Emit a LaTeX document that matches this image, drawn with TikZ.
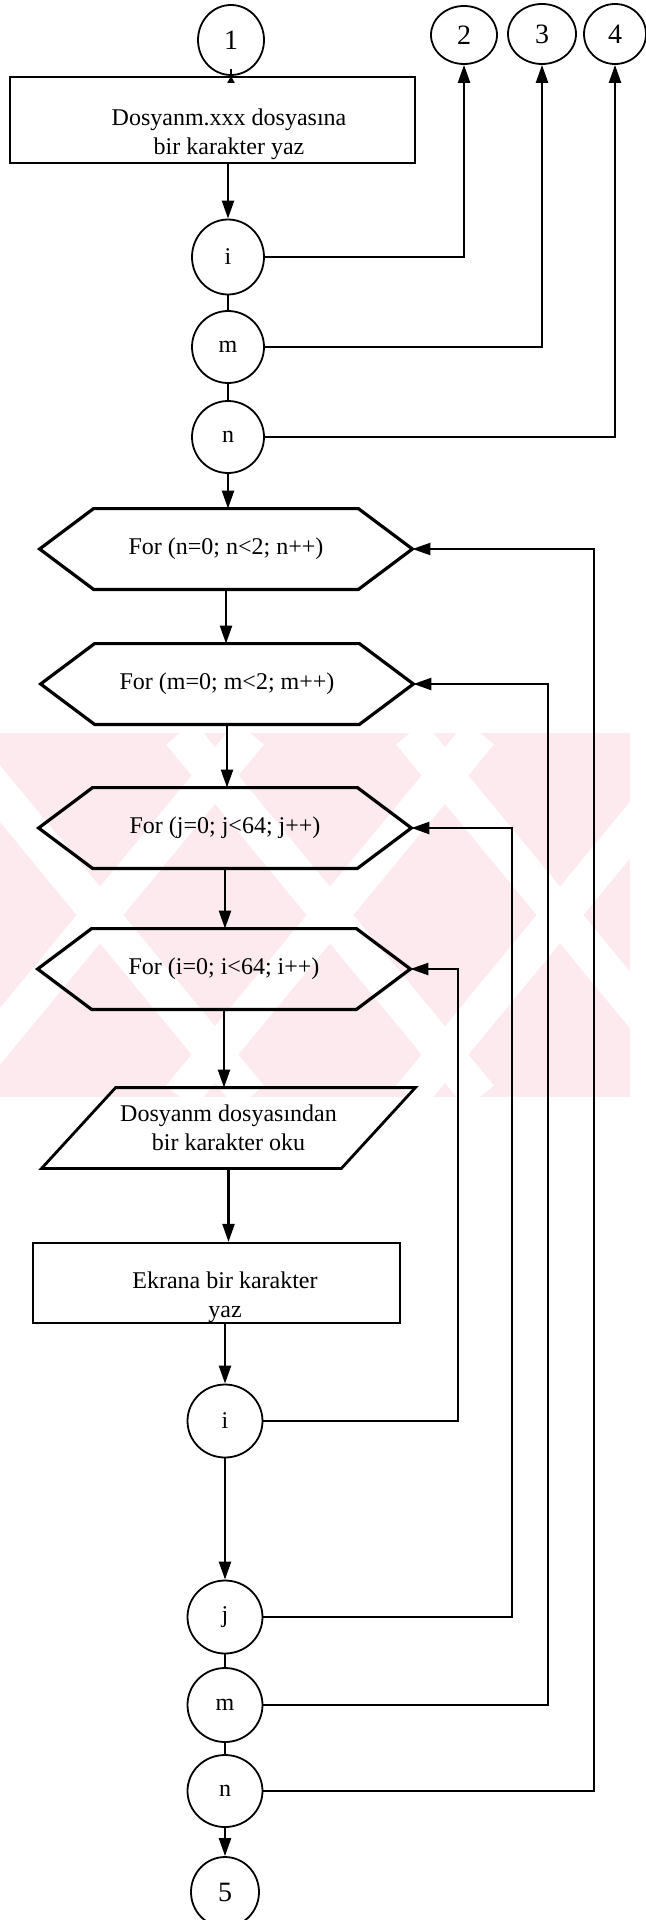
\documentclass[tikz,border=0pt]{standalone}
\usepackage{fontspec}
\setmainfont{Liberation Serif}
\usetikzlibrary{shapes.geometric,arrows.meta,calc}

\definecolor{markpink}{RGB}{253,234,238}

% Draws a "for" loop hexagon around a named text node.
% #1 name, #2 x, #3 y, #4 text
\newcommand{\forhex}[4]{%
  \node[looptext] (#1) at (#2,#3) {#4};
  \coordinate (#1-r) at ([xshift=27pt]#1.east);
  \coordinate (#1-l) at ([xshift=-27pt]#1.west);
  \draw[hexline] (#1.north west) -- (#1.north east) -- (#1-r)
     -- (#1.south east) -- (#1.south west) -- (#1-l) -- cycle;
}

\begin{document}
\begin{tikzpicture}[x=0.5pt,y=-0.5pt,
  txt/.style={font=\fontsize{12}{14.5}\selectfont},
  conn/.style={line width=1.15pt,draw=black},
  arr/.style={conn,-{Triangle[length=9pt,width=6pt]}},
  small arr/.style={conn,-{Triangle[length=3.5pt,width=3.5pt]}},
  joint/.style={ellipse,draw,line width=0.9pt,inner sep=0pt,txt},
  numjoint/.style={joint,font=\fontsize{14}{16}\selectfont},
  procbox/.style={rectangle,draw,line width=1.1pt,inner sep=0pt},
  looptext/.style={rectangle,inner sep=0pt,minimum width=132pt,minimum height=40pt,txt},
  hexline/.style={line width=1.6pt,line join=miter},
  iotext/.style={rectangle,inner sep=0pt,minimum width=149.5pt,minimum height=40pt,align=center,txt},
  markband/.style={draw=white,line width=18pt},
]
\useasboundingbox (0,0) rectangle (646,1920);

% ---- faint background mark behind the loop section
\begin{scope}
  \clip (0,733) rectangle (630,1097);
  \fill[markpink] (0,733) rectangle (630,1097);
  \foreach \cx in {100,330,560} {
    \draw[markband] (\cx-150,733) -- (\cx+150,1097);
    \draw[markband] (\cx+150,733) -- (\cx-150,1097);
  }
\end{scope}

% ---- entry and off-page connectors
\node[numjoint,minimum width=33pt,minimum height=35pt] (c1) at (231,40) {1};
\node[numjoint,minimum width=33pt,minimum height=29pt] (c2) at (464,35) {2};
\node[numjoint,minimum width=34pt,minimum height=30pt] (c3) at (542,34) {3};
\node[numjoint,minimum width=31pt,minimum height=30pt] (c4) at (615,34) {4};

% ---- write step
\node[procbox,minimum width=202.5pt,minimum height=43pt] (r1) at (212.5,120) {};
\node[txt,align=center] (r1t) at (229,134) {Dosyanm.xxx dosyasına\\bir karakter yaz};

% ---- counters after writing
\node[joint,minimum width=36pt,minimum height=37.5pt] (i1) at (228,257) {i};
\node[joint,minimum width=36pt,minimum height=36pt] (m1) at (228,347) {m};
\node[joint,minimum width=36pt,minimum height=36pt] (n1) at (228,437) {n};

% ---- nested loops
\forhex{h1}{226}{549}{For (n=0; n<2; n++)}
\forhex{h2}{227}{684}{For (m=0; m<2; m++)}
\forhex{h3}{225}{828}{For (j=0; j<64; j++)}
\forhex{h4}{224}{969}{For (i=0; i<64; i++)}

% ---- read step (parallelogram)
\node[iotext] (p1) at (228.5,1128) {Dosyanm dosyasından\\bir karakter oku};
\draw[line width=1.4pt]
  ([xshift=18.5pt]p1.north west) -- ([xshift=18.5pt]p1.north east)
  -- ([xshift=-18.5pt]p1.south east) -- ([xshift=-18.5pt]p1.south west) -- cycle;

% ---- display step
\node[procbox,minimum width=183.5pt,minimum height=40pt] (r2) at (216.5,1283) {};
\node[txt,align=center] (r2t) at (225,1297) {Ekrana bir karakter\\yaz};

% ---- loop ends
\node[joint,minimum width=37.5pt,minimum height=36.5pt] (i2) at (225,1421) {i};
\node[joint,minimum width=37.5pt,minimum height=36.5pt] (j2) at (225,1617) {j};
\node[joint,minimum width=37.5pt,minimum height=37pt] (m2) at (225,1705) {m};
\node[joint,minimum width=37.5pt,minimum height=36pt] (n2) at (225,1791) {n};
\node[numjoint,minimum width=34pt,minimum height=35pt] (c5) at (225,1892) {5};

% ---- return line columns
\coordinate (xi) at (458,0);
\coordinate (xj) at (512,0);
\coordinate (xm) at (548,0);
\coordinate (xn) at (594,0);

% ---- main flow
\draw[small arr] (c1.south) -- (c1.south |- r1.north);
\draw[arr] (i1.north |- r1.south) -- (i1.north);
\draw[conn] (i1.south) -- (m1.north);
\draw[conn] (m1.south) -- (n1.north);
\draw[arr] (n1.south) -- (n1.south |- h1.north);
\draw[arr] (h1.south) -- (h1.south |- h2.north);
\draw[arr] (h2.south) -- (h2.south |- h3.north);
\draw[arr] (h3.south) -- (h3.south |- h4.north);
\draw[arr] (h4.south) -- (h4.south |- p1.north);
\draw[arr] (p1.south) -- (p1.south |- r2.north);
\draw[arr] (i2.north |- r2.south) -- (i2.north);
\draw[arr] (i2.south) -- (j2.north);
\draw[conn] (j2.south) -- (m2.north);
\draw[conn] (m2.south) -- (n2.north);
\draw[arr] (n2.south) -- (c5.north);

% ---- exits to the off-page connectors
\draw[arr] (i1.east) -| (c2.south);
\draw[arr] (m1.east) -| (c3.south);
\draw[arr] (n1.east) -| (c4.south);

% ---- loop returns
\draw[arr] (i2.east) -- (i2.east -| xi) -- (xi |- h4-r) -- (h4-r);
\draw[arr] (j2.east) -- (j2.east -| xj) -- (xj |- h3-r) -- (h3-r);
\draw[arr] (m2.east) -- (m2.east -| xm) -- (xm |- h2-r) -- (h2-r);
\draw[arr] (n2.east) -- (n2.east -| xn) -- (xn |- h1-r) -- (h1-r);
\end{tikzpicture}
\end{document}
